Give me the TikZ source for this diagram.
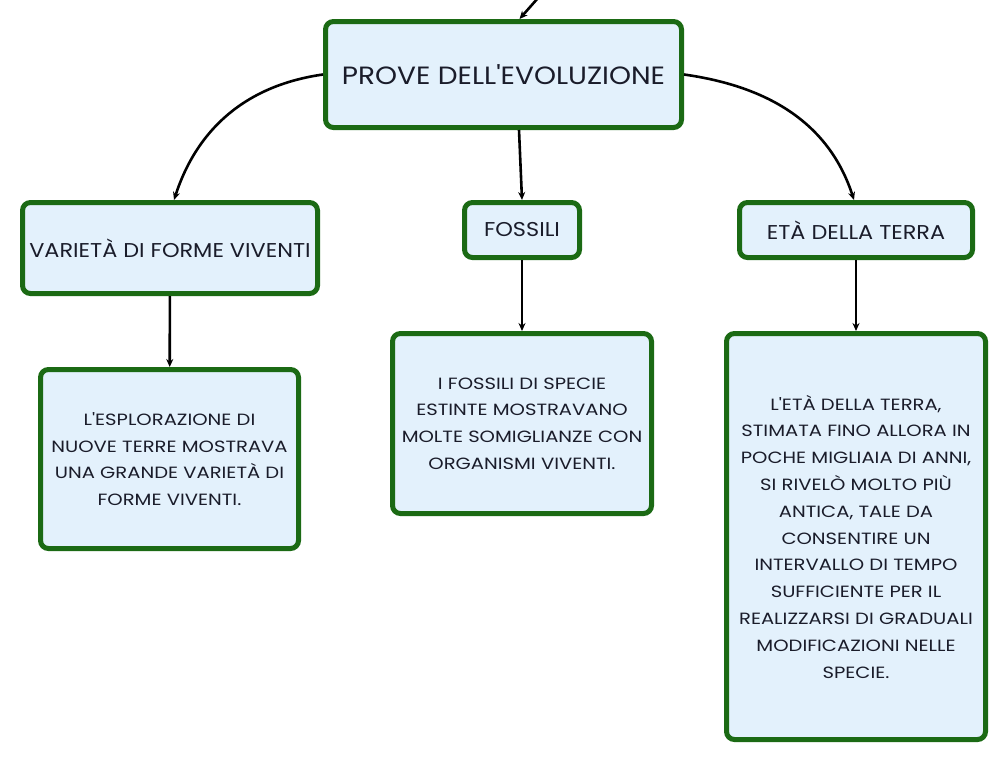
\documentclass[tikz,border=0pt]{standalone}
\usepackage{fontspec}
\newfontfamily\boxfont{Poppins}
\usetikzlibrary{arrows.meta}
\definecolor{boxfill}{HTML}{E3F1FC}
\definecolor{boxline}{HTML}{1B6A14}
\definecolor{boxtext}{HTML}{1A1C2A}
\begin{document}
\begin{tikzpicture}[x=1pt, y=-1pt,
	box/.style={draw=boxline, line width=5pt, fill=boxfill, rounded corners=8pt, inner sep=0pt, align=center, text=boxtext},
	head/.style={box, font=\boxfont\addfontfeature{FakeStretch=1.12}\fontsize{20}{24}\selectfont},
	desc/.style={box, font=\boxfont\addfontfeature{FakeStretch=1.2}\fontsize{16.3}{26.8}\selectfont},
	arr/.style={-{Stealth[length=8pt, width=7pt]}, line width=2.6pt}]
	\useasboundingbox (0,0) rectangle (1008,764);
	\node[box, minimum width=356pt, minimum height=106pt, font=\boxfont\addfontfeature{FakeStretch=1.12}\fontsize{25}{30}\selectfont] (PROVE)at(503.5, 74.5) {PROVE DELL'EVOLUZIONE};
	\node[head, minimum width=295pt, minimum height=91pt] (VARIETA)at(170, 248) {VARIETÀ DI FORME VIVENTI};
	\node[head, minimum width=115pt, minimum height=55pt] (FOSSILI)at(522, 230) {FOSSILI};
	\node[head, minimum width=233pt, minimum height=55pt] (ETA)at(856, 230) {ETÀ DELLA TERRA};
	\node[desc, minimum width=258pt, minimum height=179pt] (ESPL)at(169.5, 459) {L'ESPLORAZIONE DI\\NUOVE TERRE MOSTRAVA\\UNA GRANDE VARIETÀ DI\\FORME VIVENTI.};
	\node[desc, minimum width=259pt, minimum height=180pt] (FOSSDESC)at(522, 423.5) {I FOSSILI DI SPECIE\\ESTINTE MOSTRAVANO\\MOLTE SOMIGLIANZE CON\\ORGANISMI VIVENTI.};
	\node[desc, minimum width=259pt, minimum height=406pt] (ETADESC)at(856, 536.5) {L'ETÀ DELLA TERRA,\\STIMATA FINO ALLORA IN\\POCHE MIGLIAIA DI ANNI,\\SI RIVELÒ MOLTO PIÙ\\ANTICA, TALE DA\\CONSENTIRE UN\\INTERVALLO DI TEMPO\\SUFFICIENTE PER IL\\REALIZZARSI DI GRADUALI\\MODIFICAZIONI NELLE\\SPECIE.};
	\coordinate (TOP)at(545, -10);
	\draw[arr] (TOP) -- ([xshift=16pt]PROVE.north);
	\draw[arr] (PROVE.west) to[out=188, in=72] ([xshift=4pt]VARIETA.north);
	\draw[arr] ([xshift=15.5pt]PROVE.south) -- (FOSSILI.north);
	\draw[arr] (PROVE.east) to[out=-8, in=108] ([xshift=-2pt]ETA.north);
	\draw[arr] (VARIETA) -- (ESPL);
	\draw[arr] (FOSSILI) -- (FOSSDESC);
	\draw[arr] (ETA) -- (ETADESC);
\end{tikzpicture}
\end{document}
